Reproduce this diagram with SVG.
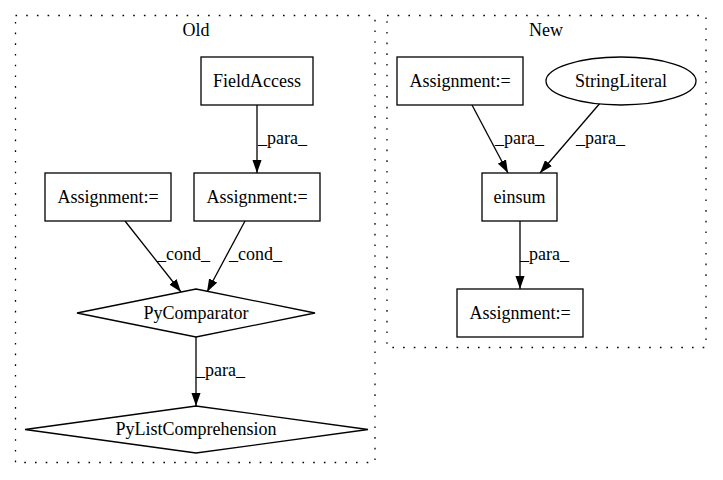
<svg xmlns="http://www.w3.org/2000/svg" width="723" height="480" viewBox="0 0 723 480">
<style>
text{font-family:"Liberation Serif","Times New Roman",serif;font-size:18px;fill:#000}
.c{text-anchor:middle}
.cl{fill:none;stroke:#000;stroke-width:1.3;stroke-dasharray:1.6,9.1}
.n{fill:#fff;stroke:#000;stroke-width:1.3}
.e{fill:none;stroke:#000;stroke-width:1.3;marker-end:url(#ah)}
</style>
<defs>
<marker id="ah" viewBox="0 0 10 7" refX="10" refY="3.5" markerWidth="13" markerHeight="9.3" markerUnits="userSpaceOnUse" orient="auto">
<path d="M0,0 L10,3.5 L0,7 z" fill="#000"/>
</marker>
</defs>
<rect width="723" height="480" fill="#fff"/>
<g id="cluster_old">
<rect class="cl" x="15.5" y="15.5" width="359.5" height="447"/>
<text class="c" x="196" y="36">Old</text>
</g>
<g id="cluster_new">
<rect class="cl" x="387" y="15.5" width="319" height="332"/>
<text class="c" x="546" y="36">New</text>
</g>
<g id="connectors">
<path class="e" d="M257,105 L257,173"/>
<text x="258" y="144">_para_</text>
<path class="e" d="M125,221 L181,292"/>
<text x="157" y="260">_cond_</text>
<path class="e" d="M245,221 L207,292"/>
<text x="229" y="260">_cond_</text>
<path class="e" d="M196,337 L196,406"/>
<text x="196" y="376">_para_</text>
<path class="e" d="M472,105 L508,173"/>
<text x="495" y="144">_para_</text>
<path class="e" d="M601,102 L540,173"/>
<text x="576" y="144">_para_</text>
<path class="e" d="M520,221 L520,289"/>
<text x="520" y="260">_para_</text>
</g>
<g id="FieldAccess">
<rect class="n" x="201" y="57" width="112" height="48"/>
<text class="c" x="257" y="87">FieldAccess</text>
</g>
<g id="OldAssign1">
<rect class="n" x="45" y="173" width="126" height="48"/>
<text class="c" x="108" y="203">Assignment:=</text>
</g>
<g id="OldAssign2">
<rect class="n" x="194" y="173" width="126" height="48"/>
<text class="c" x="257" y="203">Assignment:=</text>
</g>
<g id="PyComparator">
<polygon class="n" points="196,289 315,313 196,337 77,313"/>
<text class="c" x="196" y="319">PyComparator</text>
</g>
<g id="PyListComprehension">
<polygon class="n" points="196,406 368,429.5 196,453 25,429.5"/>
<text class="c" x="196" y="435">PyListComprehension</text>
</g>
<g id="NewAssign1">
<rect class="n" x="397" y="57" width="126" height="48"/>
<text class="c" x="460" y="87">Assignment:=</text>
</g>
<g id="StringLiteral">
<ellipse class="n" cx="621" cy="81" rx="75" ry="24"/>
<text class="c" x="621" y="87">StringLiteral</text>
</g>
<g id="einsum">
<rect class="n" x="482" y="173" width="75" height="48"/>
<text class="c" x="519.5" y="203">einsum</text>
</g>
<g id="NewAssign2">
<rect class="n" x="457" y="289" width="126" height="48"/>
<text class="c" x="520" y="319">Assignment:=</text>
</g>
</svg>
